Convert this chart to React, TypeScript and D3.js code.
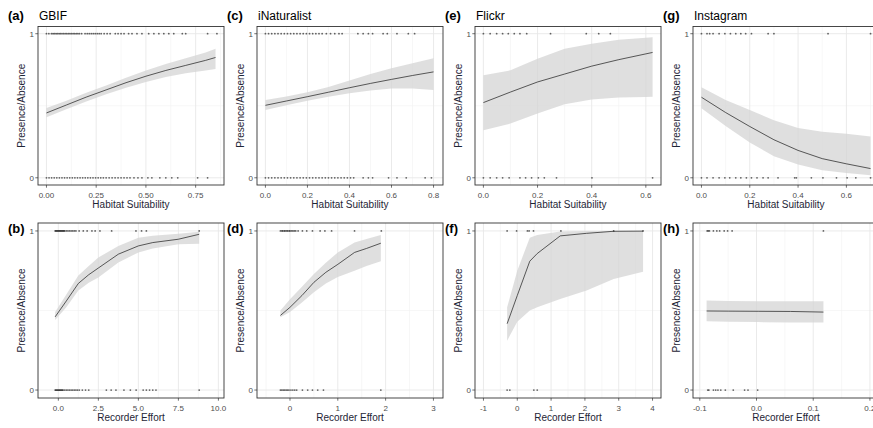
import React from "react";
import * as d3 from "d3";

// fitted curves: [x, fit, lower, upper]
const gbifHabCurve = [
  [0, 0.45, 0.42, 0.485], [0.1, 0.505, 0.475, 0.535], [0.2, 0.56, 0.53, 0.59],
  [0.3, 0.61, 0.58, 0.64], [0.4, 0.66, 0.625, 0.695], [0.5, 0.705, 0.665, 0.745],
  [0.6, 0.745, 0.7, 0.79], [0.7, 0.78, 0.725, 0.83], [0.8, 0.815, 0.745, 0.87],
  [0.85, 0.835, 0.755, 0.895],
];
const gbifHabPres = [
  0, 0.012, 0.025, 0.033, 0.04, 0.048, 0.055, 0.063, 0.07, 0.078, 0.086, 0.094, 0.102, 0.11,
  0.118, 0.126, 0.134, 0.142, 0.15, 0.158, 0.166, 0.177, 0.194, 0.205, 0.215, 0.225, 0.235,
  0.245, 0.255, 0.265, 0.275, 0.29, 0.305, 0.32, 0.346, 0.36, 0.375, 0.39, 0.413, 0.43, 0.455,
  0.48, 0.514, 0.54, 0.565, 0.59, 0.615, 0.64, 0.683, 0.7, 0.81, 0.857,
];
const gbifHabAbs = [
  0, 0.013, 0.026, 0.039, 0.052, 0.065, 0.078, 0.091, 0.104, 0.117, 0.13, 0.143, 0.156, 0.169,
  0.182, 0.195, 0.208, 0.221, 0.234, 0.247, 0.26, 0.273, 0.286, 0.3, 0.315, 0.33, 0.345, 0.36,
  0.375, 0.39, 0.405, 0.42, 0.44, 0.46, 0.48, 0.51, 0.53, 0.57, 0.6, 0.63, 0.66, 0.76, 0.81,
];

const inatHabCurve = [
  [0, 0.503, 0.47, 0.54], [0.1, 0.533, 0.503, 0.565], [0.2, 0.563, 0.535, 0.593],
  [0.3, 0.594, 0.562, 0.63], [0.4, 0.625, 0.586, 0.675], [0.5, 0.655, 0.605, 0.72],
  [0.6, 0.683, 0.62, 0.76], [0.7, 0.71, 0.62, 0.795], [0.8, 0.735, 0.61, 0.83],
];
const inatHabPres = [
  0, 0.015, 0.03, 0.045, 0.06, 0.075, 0.09, 0.105, 0.12, 0.135, 0.15, 0.165, 0.18, 0.195,
  0.21, 0.225, 0.24, 0.255, 0.27, 0.29, 0.31, 0.33, 0.35, 0.365, 0.44, 0.465, 0.49, 0.51,
  0.56, 0.58, 0.626, 0.68, 0.71,
];
const inatHabAbs = [
  0, 0.015, 0.03, 0.045, 0.06, 0.075, 0.09, 0.105, 0.12, 0.135, 0.15, 0.165, 0.18, 0.195,
  0.21, 0.225, 0.24, 0.255, 0.27, 0.285, 0.3, 0.315, 0.33, 0.345, 0.36, 0.375, 0.39, 0.405,
  0.42, 0.465, 0.49, 0.51, 0.586, 0.626, 0.67, 0.76, 0.79,
];

const flickrHabCurve = [
  [0, 0.522, 0.33, 0.711], [0.1, 0.595, 0.376, 0.746], [0.2, 0.665, 0.446, 0.827],
  [0.3, 0.72, 0.51, 0.896], [0.4, 0.775, 0.543, 0.93], [0.5, 0.82, 0.557, 0.958],
  [0.6, 0.86, 0.561, 0.972], [0.625, 0.87, 0.562, 0.975],
];
const flickrHabPres = [0, 0.025, 0.049, 0.071, 0.092, 0.114, 0.135, 0.16, 0.248, 0.38, 0.426, 0.469];
const flickrHabAbs = [0, 0.025, 0.049, 0.071, 0.095, 0.135, 0.156, 0.178, 0.203, 0.225, 0.27, 0.401, 0.625];

const instaHabCurve = [
  [0, 0.559, 0.483, 0.628], [0.1, 0.453, 0.36, 0.54], [0.2, 0.356, 0.245, 0.47],
  [0.3, 0.264, 0.15, 0.4], [0.4, 0.19, 0.092, 0.345], [0.5, 0.133, 0.053, 0.32],
  [0.6, 0.097, 0.034, 0.306], [0.7, 0.064, 0.018, 0.287],
];
const instaHabPres = [0, 0.023, 0.034, 0.048, 0.073, 0.097, 0.12, 0.142, 0.163, 0.183, 0.207, 0.276, 0.3, 0.524, 0.7];
const instaHabAbs = [
  0, 0.023, 0.048, 0.073, 0.097, 0.117, 0.142, 0.163, 0.186, 0.207, 0.23, 0.255, 0.276, 0.317,
  0.386, 0.393, 0.455, 0.503, 0.559, 0.603, 0.639, 0.7,
];

const gbifEffCurve = [
  [-0.2, 0.46, 0.44, 0.49], [0.5, 0.56, 0.52, 0.6], [1.25, 0.67, 0.625, 0.72],
  [1.9, 0.725, 0.675, 0.78], [2.5, 0.767, 0.708, 0.833], [3.75, 0.854, 0.802, 0.906],
  [5.0, 0.906, 0.865, 0.958], [5.9, 0.927, 0.89, 0.97], [7.5, 0.948, 0.917, 0.983],
  [8.8, 0.979, 0.92, 0.995],
];
const gbifEffPres = [
  -0.2, -0.15, -0.1, -0.05, 0, 0.05, 0.1, 0.15, 0.2, 0.25, 0.3, 0.35, 0.4, 0.5, 0.6, 0.7, 0.8,
  0.9, 1.0, 1.1, 1.3, 1.56, 1.8, 2.1, 2.3, 2.6, 3.33, 4.85, 5.2, 5.5, 8.8,
];
const gbifEffAbs = [
  -0.2, -0.15, -0.1, -0.05, 0, 0.05, 0.1, 0.15, 0.2, 0.25, 0.3, 0.4, 0.5, 0.6, 0.7, 0.8, 0.9,
  1.0, 1.1, 1.2, 1.31, 1.5, 1.7, 1.9, 3.0, 3.3, 3.6, 4.1, 4.5, 4.86, 5.3, 5.5, 5.7, 5.9, 6.1, 8.8,
];

const inatEffCurve = [
  [-0.2, 0.469, 0.458, 0.5], [0, 0.52, 0.49, 0.57], [0.25, 0.594, 0.55, 0.65],
  [0.5, 0.677, 0.615, 0.73], [0.75, 0.74, 0.67, 0.8], [1.0, 0.79, 0.71, 0.865],
  [1.35, 0.865, 0.75, 0.927], [1.6, 0.89, 0.78, 0.95], [1.9, 0.923, 0.81, 0.975],
];
const inatEffPres = [
  -0.2, -0.17, -0.15, -0.12, -0.1, -0.07, -0.05, -0.02, 0, 0.03, 0.06, 0.09, 0.12, 0.17, 0.26,
  0.35, 0.47, 0.63, 0.73, 0.87, 1.35, 1.91,
];
const inatEffAbs = [
  -0.2, -0.17, -0.14, -0.11, -0.08, -0.05, -0.02, 0.02, 0.06, 0.1, 0.14, 0.26, 0.37, 0.47, 0.58, 0.7, 1.9,
];

const flickrEffCurve = [
  [-0.3, 0.417, 0.31, 0.52], [0, 0.594, 0.43, 0.75], [0.37, 0.81, 0.5, 0.958],
  [0.59, 0.858, 0.52, 0.975], [1.27, 0.969, 0.573, 0.996], [2.05, 0.985, 0.625, 0.999],
  [2.85, 0.998, 0.698, 1.0], [3.72, 0.999, 0.744, 1.0],
];
const flickrEffPres = [-0.3, -0.02, 0.3, 0.35, 0.48, 1.29, 2.85, 3.72];
const flickrEffAbs = [-0.3, -0.22, 0.49, 0.59];

const instaEffCurve = [
  [-0.088, 0.497, 0.433, 0.5625], [-0.05, 0.496, 0.43, 0.56], [0.003, 0.495, 0.427, 0.558],
  [0.06, 0.494, 0.425, 0.558], [0.118, 0.49, 0.425, 0.558],
];
const instaEffPres = [-0.087, -0.085, -0.083, -0.076, -0.07, -0.065, -0.057, -0.051, -0.043, 0.118];
const instaEffAbs = [-0.086, -0.084, -0.076, -0.072, -0.068, -0.063, -0.055, -0.041, -0.021, -0.015, 0.002];

// axis ticks
const ticksA = [0, 0.25, 0.5, 0.75];
const labelsA = ["0.00", "0.25", "0.50", "0.75"];
const ticksC = [0, 0.2, 0.4, 0.6, 0.8];
const labelsC = ["0.0", "0.2", "0.4", "0.6", "0.8"];
const ticksEG = [0, 0.2, 0.4, 0.6];
const labelsEG = ["0.0", "0.2", "0.4", "0.6"];
const ticksB = [0, 2.5, 5, 7.5, 10];
const labelsB = ["0.0", "2.5", "5.0", "7.5", "10.0"];
const ticksD = [0, 1, 2, 3];
const labelsD = ["0", "1", "2", "3"];
const ticksF = [-1, 0, 1, 2, 3, 4];
const labelsF = ["-1", "0", "1", "2", "3", "4"];
const ticksH = [-0.1, 0, 0.1, 0.2];
const labelsH = ["-0.1", "0.0", "0.1", "0.2"];
const yTicks = [0, 1];
const yLabels = ["0", "1"];

const FONT = "'Liberation Sans', Arial, sans-serif";
const colLeft = [38, 257, 475, 693];
const boxW = 186;
const rowBox = [
  { top: 26.5, bottom: 185 },
  { top: 223, bottom: 398 },
];

const panels = [
  { tag: "(a)", title: "GBIF", row: 0, col: 0, xLab: "Habitat Suitability", dom: [-0.0425, 0.8925], ticks: ticksA, labels: labelsA, curve: gbifHabCurve, pres: gbifHabPres, abs: gbifHabAbs },
  { tag: "(c)", title: "iNaturalist", row: 0, col: 1, xLab: "Habitat Suitability", dom: [-0.04, 0.845], ticks: ticksC, labels: labelsC, curve: inatHabCurve, pres: inatHabPres, abs: inatHabAbs },
  { tag: "(e)", title: "Flickr", row: 0, col: 2, xLab: "Habitat Suitability", dom: [-0.031, 0.656], ticks: ticksEG, labels: labelsEG, curve: flickrHabCurve, pres: flickrHabPres, abs: flickrHabAbs },
  { tag: "(g)", title: "Instagram", row: 0, col: 3, xLab: "Habitat Suitability", dom: [-0.035, 0.735], ticks: ticksEG, labels: labelsEG, curve: instaHabCurve, pres: instaHabPres, abs: instaHabAbs },
  { tag: "(b)", title: "", row: 1, col: 0, xLab: "Recorder Effort", dom: [-1.27, 10.35], ticks: ticksB, labels: labelsB, curve: gbifEffCurve, pres: gbifEffPres, abs: gbifEffAbs },
  { tag: "(d)", title: "", row: 1, col: 1, xLab: "Recorder Effort", dom: [-0.69, 3.2], ticks: ticksD, labels: labelsD, curve: inatEffCurve, pres: inatEffPres, abs: inatEffAbs },
  { tag: "(f)", title: "", row: 1, col: 2, xLab: "Recorder Effort", dom: [-1.25, 4.25], ticks: ticksF, labels: labelsF, curve: flickrEffCurve, pres: flickrEffPres, abs: flickrEffAbs },
  { tag: "(h)", title: "", row: 1, col: 3, xLab: "Recorder Effort", dom: [-0.112, 0.216], ticks: ticksH, labels: labelsH, curve: instaEffCurve, pres: instaEffPres, abs: instaEffAbs },
];

function Panel({ p }: { p: any }) {
  const left = colLeft[p.col];
  const right = left + boxW;
  const { top, bottom } = rowBox[p.row];
  const x = d3.scaleLinear().domain(p.dom).range([left, right]);
  const y = d3.scaleLinear().domain([-0.05, 1.05]).range([bottom, top]);

  const step = p.ticks[1] - p.ticks[0];
  const minors: number[] = [];
  for (let k = -3; k < p.ticks.length + 3; k++) {
    const v = p.ticks[0] + (k + 0.5) * step;
    if (v > p.dom[0] && v < p.dom[1]) minors.push(v);
  }

  const area = d3.area<number[]>().x((d) => x(d[0])).y0((d) => y(d[2])).y1((d) => y(d[3]));
  const line = d3.line<number[]>().x((d) => x(d[0])).y((d) => y(d[1]));
  const clipId = "clip" + p.tag.replace(/[()]/g, "");
  const midY = (top + bottom) / 2;

  return (
    <g>
      <clipPath id={clipId}>
        <rect x={left} y={top} width={boxW} height={bottom - top} />
      </clipPath>
      <rect x={left} y={top} width={boxW} height={bottom - top} fill="#fff" />
      <g clipPath={`url(#${clipId})`}>
        {minors.map((v) => (
          <line key={"mx" + v} x1={x(v)} x2={x(v)} y1={top} y2={bottom} stroke="#f2f2f2" strokeWidth={0.6} />
        ))}
        <line x1={left} x2={right} y1={y(0.5)} y2={y(0.5)} stroke="#f2f2f2" strokeWidth={0.6} />
        {p.ticks.map((v: number) => (
          <line key={"gx" + v} x1={x(v)} x2={x(v)} y1={top} y2={bottom} stroke="#e8e8e8" strokeWidth={0.9} />
        ))}
        {yTicks.map((v) => (
          <line key={"gy" + v} x1={left} x2={right} y1={y(v)} y2={y(v)} stroke="#e8e8e8" strokeWidth={0.9} />
        ))}
        <path d={area(p.curve) || ""} fill="#d4d4d4" fillOpacity={0.75} />
        <path d={line(p.curve) || ""} fill="none" stroke="#1a1a1a" strokeWidth={0.7} />
        {p.pres.map((v: number, i: number) => (
          <circle key={"p" + i} cx={x(v)} cy={y(1)} r={0.9} fill="#000" fillOpacity={0.6} />
        ))}
        {p.abs.map((v: number, i: number) => (
          <circle key={"a" + i} cx={x(v)} cy={y(0)} r={0.9} fill="#000" fillOpacity={0.6} />
        ))}
      </g>
      <rect x={left} y={top} width={boxW} height={bottom - top} fill="none" stroke="#333" strokeWidth={0.9} />

      {p.ticks.map((v: number, i: number) => (
        <g key={"tx" + v}>
          <line x1={x(v)} x2={x(v)} y1={bottom} y2={bottom + 2.7} stroke="#333" strokeWidth={0.7} />
          <text x={x(v)} y={bottom + 12.5} textAnchor="middle" fontSize={8} fill="#4d4d4d" fontFamily={FONT}>
            {p.labels[i]}
          </text>
        </g>
      ))}
      {yTicks.map((v, i) => (
        <g key={"ty" + v}>
          <line x1={left - 2.7} x2={left} y1={y(v)} y2={y(v)} stroke="#333" strokeWidth={0.7} />
          <text x={left - 4} y={y(v) + 3} textAnchor="end" fontSize={8} fill="#4d4d4d" fontFamily={FONT}>
            {yLabels[i]}
          </text>
        </g>
      ))}

      <text x={(left + right) / 2} y={bottom + 23} textAnchor="middle" fontSize={10} fill="#1e2536" fontFamily={FONT}>
        {p.xLab}
      </text>
      <text
        transform={`translate(${left - 13},${midY}) rotate(-90)`}
        textAnchor="middle"
        fontSize={10}
        fill="#1e2536"
        fontFamily={FONT}
      >
        Presence/Absence
      </text>

      <text x={left - 30} y={p.row === 0 ? 20 : top + 9.5} fontSize={13} fontWeight="bold" fill="#000" fontFamily={FONT}>
        {p.tag}
      </text>
      {p.title && (
        <text x={left + 1} y={20} fontSize={12} fill="#000" fontFamily={FONT}>
          {p.title}
        </text>
      )}
    </g>
  );
}

export default function App() {
  return (
    <svg
      width={873}
      height={428}
      style={{ position: "absolute", left: 0, top: 0, background: "#fff" }}
    >
      <rect width={873} height={428} fill="#fff" />
      {panels.map((p) => (
        <Panel key={p.tag} p={p} />
      ))}
    </svg>
  );
}
